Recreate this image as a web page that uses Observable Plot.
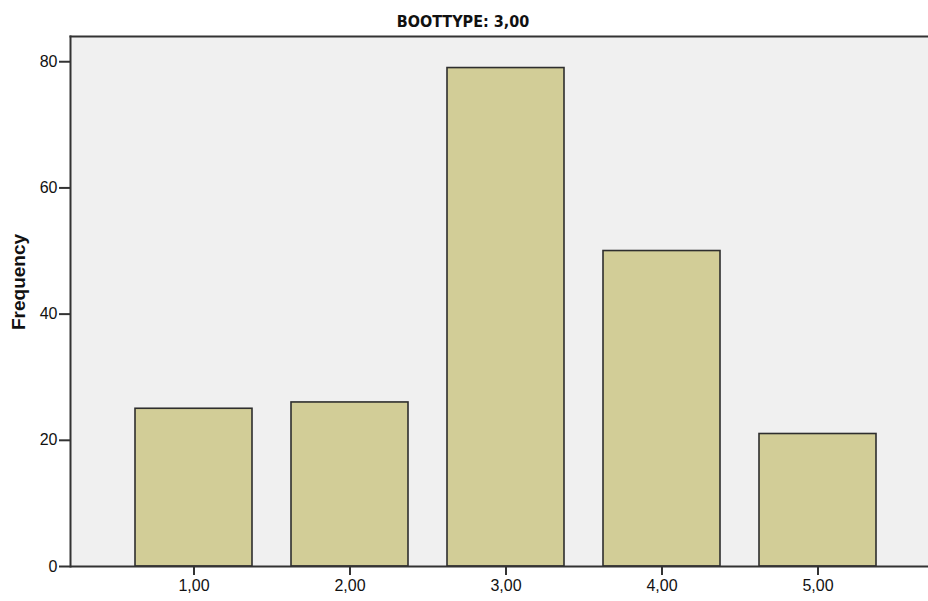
<!DOCTYPE html>
<html>
<head>
<meta charset="utf-8">
<script src="https://cdn.jsdelivr.net/npm/d3@7"></script>
<script src="https://cdn.jsdelivr.net/npm/@observablehq/plot@0.6"></script>
<style>
  html, body { margin: 0; padding: 0; background: #fff; }
  #chart svg { display: block; }
</style>
</head>
<body>
<div id="chart"></div>
<script>
const title = "BOOTTYPE: 3,00";
const yLabel = "Frequency";
const categories = ["1,00", "2,00", "3,00", "4,00", "5,00"];
const frequencies = [25, 26, 79, 50, 21];
const yTicks = [0, 20, 40, 60, 80];

const data = categories.map((c, i) => ({cat: c, freq: frequencies[i]}));

const plot = Plot.plot({
  width: 928,
  height: 601,
  marginTop: 36,
  marginBottom: 35,
  marginLeft: 70,
  marginRight: 0,
  style: {fontFamily: "'Liberation Sans', Arial, sans-serif", fontSize: "16px", color: "#111", background: "#fff"},
  x: {type: "band", domain: categories, range: [134, 876], paddingInner: 0.25, paddingOuter: 0, label: null, tickSize: 9, tickPadding: 4},
  y: {domain: [0, 84], ticks: yTicks, tickSize: 11, tickPadding: 2, label: null},
  marks: [
    Plot.frame({fill: "#f0f0f0", stroke: "none"}),
    Plot.barY(data, {x: "cat", y: "freq", fill: "#d2cd97", stroke: "#2e2e2e", strokeWidth: 1.6}),
    Plot.frame({anchor: "top", stroke: "#333", strokeWidth: 2}),
    Plot.frame({anchor: "left", stroke: "#333", strokeWidth: 2}),
    Plot.ruleY([0], {stroke: "#333", strokeWidth: 2}),
    Plot.axisX({tickSize: 9, tickPadding: 4, stroke: "#333", strokeWidth: 2, label: null}),
    Plot.axisY({ticks: yTicks, tickSize: 11, tickPadding: 2, stroke: "#333", strokeWidth: 2, label: null})
  ]
});

const svg = d3.select(plot);
svg.append("text")
  .attr("x", 463).attr("y", 27)
  .attr("text-anchor", "middle")
  .attr("font-family", "'Liberation Sans Narrow', 'DejaVu Sans Condensed', 'Liberation Sans', sans-serif")
  .attr("font-weight", "bold")
  .attr("font-size", 16)
  .attr("fill", "#111")
  .text(title);
svg.append("text")
  .attr("transform", "translate(25,282) rotate(-90)")
  .attr("text-anchor", "middle")
  .attr("font-family", "'Liberation Sans', Arial, sans-serif")
  .attr("font-weight", "bold")
  .attr("font-size", 19)
  .attr("fill", "#111")
  .text(yLabel);

document.getElementById("chart").appendChild(plot);
</script>
</body>
</html>
